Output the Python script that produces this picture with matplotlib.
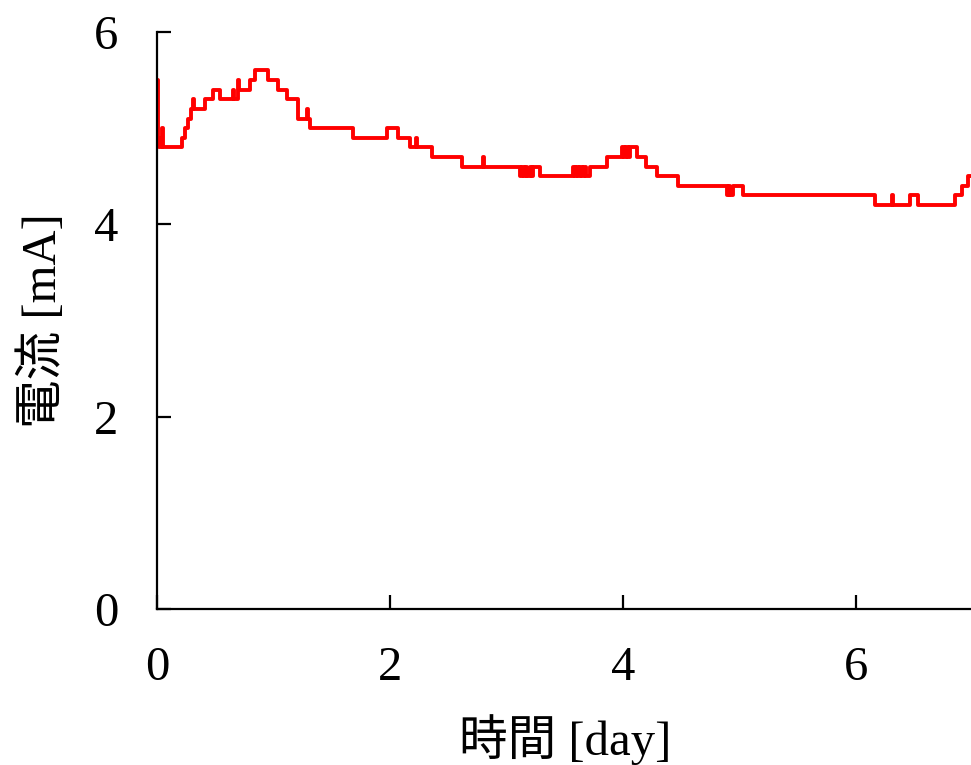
import matplotlib
matplotlib.use("Agg")
import matplotlib.pyplot as plt

plt.rcParams['font.family'] = ['Liberation Serif', 'Noto Sans CJK JP']
plt.rcParams['font.size'] = 35

# 時間 [day] と 電流 [mA] (0.1 mA 刻みの階段データ)
t = [0.000, 0.006, 0.020, 0.045, 0.055, 0.069, 0.217, 0.240, 0.270, 0.290,
     0.310, 0.318, 0.326, 0.412, 0.483, 0.541, 0.650, 0.658, 0.692, 0.700,
     0.798, 0.841, 0.956, 1.041, 1.113, 1.213, 1.290, 1.298, 1.313, 1.680,
     1.970, 2.070, 2.170, 2.220, 2.228, 2.360, 2.615, 2.795, 2.810, 3.120,
     3.135, 3.150, 3.165, 3.180, 3.200, 3.215, 3.230, 3.290, 3.570, 3.585,
     3.600, 3.615, 3.630, 3.650, 3.665, 3.680, 3.720, 3.860, 3.990, 4.010,
     4.025, 4.045, 4.060, 4.120, 4.200, 4.290, 4.470, 4.890, 4.910, 4.920,
     4.940, 5.030, 6.160, 6.305, 6.315, 6.460, 6.530, 6.850, 6.910, 6.960,
     7.000]
current = [5.5, 4.9, 4.8, 5.0, 4.8, 4.8, 4.9, 5.0, 5.1, 5.2,
           5.3, 5.2, 5.2, 5.3, 5.4, 5.3, 5.4, 5.3, 5.5, 5.4,
           5.5, 5.6, 5.5, 5.4, 5.3, 5.1, 5.2, 5.1, 5.0, 4.9,
           5.0, 4.9, 4.8, 4.9, 4.8, 4.7, 4.6, 4.7, 4.6, 4.5,
           4.6, 4.5, 4.6, 4.5, 4.6, 4.5, 4.6, 4.5, 4.6, 4.5,
           4.6, 4.5, 4.6, 4.5, 4.6, 4.5, 4.6, 4.7, 4.8, 4.7,
           4.8, 4.7, 4.8, 4.7, 4.6, 4.5, 4.4, 4.3, 4.4, 4.3,
           4.4, 4.3, 4.2, 4.3, 4.2, 4.3, 4.2, 4.3, 4.4, 4.5,
           4.5]

fig = plt.figure(figsize=(9.71, 7.65), dpi=100)
ax = fig.add_axes([157/971, 1 - 609/765, (972.5 - 157)/971, (609 - 32)/765])

ax.step(t, current, where='post', color='red', linewidth=2.8)

ax.set_xlim(0, 7)
ax.set_ylim(0, 6)
ax.set_xticks([0, 2, 4, 6])
ax.set_yticks([0, 2, 4, 6])
ax.spines['top'].set_visible(False)
ax.spines['right'].set_visible(False)
for s in ['left', 'bottom']:
    ax.spines[s].set_linewidth(1.6)
ax.tick_params(direction='in', length=10, width=1.6, labelsize=35)
ax.tick_params(axis='x', pad=27)
ax.tick_params(axis='y', pad=28)

ax.set_xlabel('時間 [day]', fontsize=35, labelpad=17)
ax.set_ylabel('電流 [mA]', fontsize=35, labelpad=20)

fig.savefig('out.png', dpi=100)
